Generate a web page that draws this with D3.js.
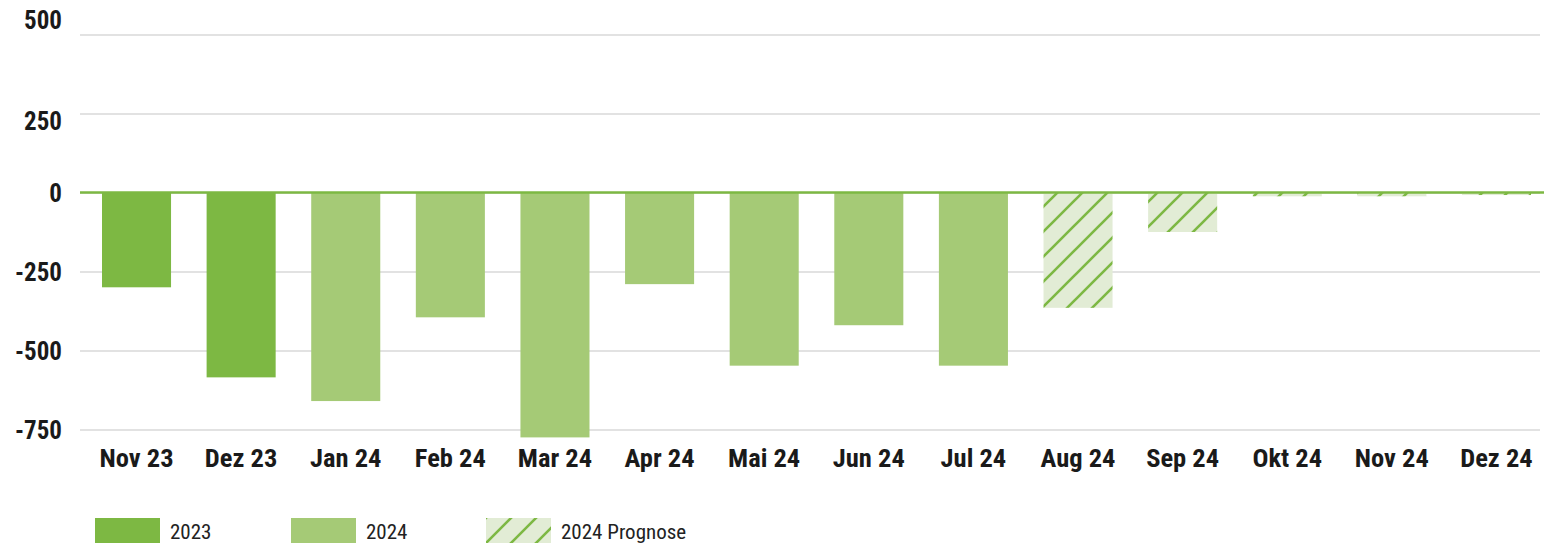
<!DOCTYPE html>
<html>
<head>
<meta charset="utf-8">
<script src="https://cdn.jsdelivr.net/npm/d3@7"></script>
<style>
  body { margin: 0; background: #fff; }
  svg { display: block; }
  .lbl { font-family: "Roboto Condensed", "Liberation Sans Narrow", "Arial Narrow", Roboto, sans-serif; }
</style>
</head>
<body>
<div id="chart"></div>
<script>
// Months on the x axis
let months = ["Nov 23", "Dez 23", "Jan 24", "Feb 24", "Mar 24", "Apr 24", "Mai 24",
              "Jun 24", "Jul 24", "Aug 24", "Sep 24", "Okt 24", "Nov 24", "Dez 24"];
// Values per month
let values = [-300, -585, -660, -395, -775, -290, -548, -420, -548, -365, -125, -12, -12, -8];
// Series each month belongs to
let series = ["2023", "2023", "2024", "2024", "2024", "2024", "2024",
              "2024", "2024", "2024 Prognose", "2024 Prognose", "2024 Prognose", "2024 Prognose", "2024 Prognose"];
let legendItems = ["2023", "2024", "2024 Prognose"];
let yTicks = [500, 250, 0, -250, -500, -750];

let width = 1544, height = 546;
let green = "#7db843", light = "#a5ca76", hatchBg = "#e2ecd5";

let svg = d3.select("#chart").append("svg")
    .attr("width", width)
    .attr("height", height);

// Hatch pattern for the forecast bars
let defs = svg.append("defs");
let pat = defs.append("pattern")
    .attr("id", "hatch")
    .attr("patternUnits", "userSpaceOnUse")
    .attr("width", 25)
    .attr("height", 25);
pat.append("rect").attr("width", 25).attr("height", 25).attr("fill", hatchBg);
pat.append("path")
    .attr("d", "M-5,5 L5,-5 M0,25 L25,0 M20,30 L30,20")
    .attr("stroke", green)
    .attr("stroke-width", 2.6);

// Scales
let y = d3.scaleLinear()
    .domain([-750, 500])
    .range([429.5, 34.5]);

let x = d3.scaleBand()
    .domain(months)
    .range([102, 1531])
    .paddingInner(0.34)
    .paddingOuter(0);

let color = d3.scaleOrdinal()
    .domain(legendItems)
    .range([green, light, "url(#hatch)"]);

// Grid lines
let yAxis = d3.axisLeft(y)
    .tickValues(yTicks)
    .tickSize(-1460)
    .tickFormat("");

svg.append("g")
    .attr("transform", "translate(80,0)")
    .call(yAxis)
    .call(g => g.select(".domain").remove())
    .call(g => g.selectAll(".tick line").attr("stroke", "#d9d9d9").attr("stroke-width", 1.5));

// Y labels (the two upper ones are nudged off their grid lines like in the original)
let labelShift = [-15, 7, 0, 0, 0, 0];
svg.append("g").selectAll("text")
    .data(yTicks)
    .enter().append("text")
    .attr("class", "lbl")
    .attr("x", 62)
    .attr("y", function(d, i) { return y(d) + labelShift[i]; })
    .attr("dy", "0.36em")
    .attr("text-anchor", "end")
    .attr("font-size", "25px")
    .attr("font-weight", "bold")
    .attr("fill", "#1a1a1a")
    .text(d => d);

// Bars
svg.append("g").selectAll("rect")
    .data(months)
    .enter().append("rect")
    .attr("x", d => x(d))
    .attr("width", x.bandwidth())
    .attr("y", (d, i) => Math.min(y(0), y(values[i])))
    .attr("height", (d, i) => Math.abs(y(values[i]) - y(0)))
    .attr("fill", (d, i) => color(series[i]));

// Zero line
svg.append("line")
    .attr("x1", 80).attr("x2", width)
    .attr("y1", y(0)).attr("y2", y(0))
    .attr("stroke", green)
    .attr("stroke-width", 2.5);

// X labels
let xAxis = d3.axisBottom(x).tickSize(0).tickPadding(0);
svg.append("g")
    .attr("transform", "translate(0,448)")
    .call(xAxis)
    .call(g => g.select(".domain").remove())
    .selectAll("text")
        .attr("class", "lbl")
        .attr("dy", "0.72em")
        .attr("font-size", "26.5px")
        .attr("font-weight", "bold")
        .attr("fill", "#1a1a1a");

// Legend
let legendX = [95, 291, 486];
let legend = svg.append("g").selectAll("g")
    .data(legendItems)
    .enter().append("g")
    .attr("transform", (d, i) => "translate(" + legendX[i] + ",518)");

legend.append("rect")
    .attr("width", 65)
    .attr("height", 25)
    .attr("fill", d => color(d));

legend.append("text")
    .attr("class", "lbl")
    .attr("x", 75)
    .attr("y", 13)
    .attr("dy", "0.36em")
    .attr("font-size", "21px")
    .attr("fill", "#222")
    .text(d => d);
</script>
</body>
</html>
